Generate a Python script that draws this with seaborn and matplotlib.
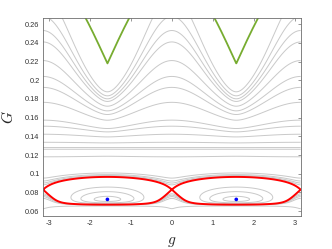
import numpy as np
import pandas as pd
import matplotlib
matplotlib.use("Agg")
import matplotlib.pyplot as plt
import seaborn as sns

# ---- values ----
# island centres (blue dots)
center_g = [-1.5708, 1.5708]
center_G = [0.0725, 0.0725]
# saddle / separatrix geometry
saddle_G = 0.083
sep_low_G = 0.0669
sep_high_G = 0.0965
# gray contours of the lower (resonance) region, given by their height at g = +-pi/2
island_G = [0.0758, 0.0808, 0.0857]
above_sep_G = [0.1008]
# lines passing under the saddle, given by their height at g = 0
below_sep_G = [0.0626, 0.0755, 0.0770, 0.0785]
# upper circulating curves, given by their height at g = +-pi/2
upper_G = [0.1187, 0.1262, 0.1280, 0.1330, 0.1394, 0.1448, 0.1484, 0.1573,
           0.1634, 0.1673, 0.1723, 0.1774, 0.1802, 0.1834, 0.1877]
flat_G = 0.1275
# green boundary: cusp height and rise at g = 0, pi
green_cusp = 0.218
green_rise = 0.096

xticks = [-3, -2, -1, 0, 1, 2, 3]
yticks = [0.06, 0.08, 0.10, 0.12, 0.14, 0.16, 0.18, 0.20, 0.22, 0.24, 0.26]
yticklabels = ["0.06", "0.08", "0.1", "0.12", "0.14", "0.16", "0.18", "0.2",
               "0.22", "0.24", "0.26"]

# ---- model Hamiltonian used to draw the level curves ----
def phi(z):
    return np.exp(-z) - 1 + z

k = 471.0
q0 = phi(k * (sep_low_G - center_G[0]))
beta = 1 + q0 - k * (saddle_G - center_G[0])
kp = k / beta

def Q(y):  # value on g = +-pi/2
    return phi(k * (y - center_G[0])) - q0

def P(y):  # value on g = 0, pi
    return beta * phi(kp * (y - saddle_G))

def smooth_abs(s, eps):
    return (np.sqrt(s ** 2 + eps ** 2) - eps) / (np.sqrt(1 + eps ** 2) - eps)

def a_of(y):
    u = np.abs(y - flat_G)
    return np.where(y > flat_G, 7.53 * u ** 0.816, 3.0 * u ** 0.816)

g = np.linspace(-np.pi, np.pi, 1400)
G = np.linspace(0.05, 0.27, 1400)
X, Y = np.meshgrid(g, G)

sig = smooth_abs(np.sin(X), 0.15)
H_low = P(Y) + (Q(Y) - P(Y)) * sig
H_low = np.where(Y < 0.106, H_low, np.nan)

cshape = smooth_abs(np.cos(X), 0.2)
H_up = (Y - flat_G) / (1 + a_of(Y) * cshape)
H_up = np.where(Y >= 0.106, H_up, np.nan)

low_levels = sorted([Q(v) for v in island_G] + [Q(v) for v in above_sep_G]
                    + [P(v) for v in below_sep_G])
up_levels = [v - flat_G for v in upper_G]

# ---- figure ----
sns.set_style("white")
plt.rcParams["font.family"] = ["Liberation Sans", "DejaVu Sans"]
plt.rcParams["mathtext.fontset"] = "cm"
plt.rcParams["contour.negative_linestyle"] = "solid"

fig = plt.figure(figsize=(3.32, 2.49), dpi=100)
ax = fig.add_axes([0.1295, 0.1313, 0.7762, 0.7952])

gray = "#c9c9c9"
ax.contour(X, Y, H_low, levels=low_levels, colors=gray, linewidths=0.7)
ax.contour(X, Y, H_up, levels=up_levels, colors=gray, linewidths=0.7)
ax.contour(X, Y, H_low, levels=[0.0], colors="#ff0000", linewidths=1.4)

green_df = pd.DataFrame({"g": g, "G": green_cusp + green_rise * np.abs(np.cos(g))})
green_df.loc[green_df["G"] > 0.27, "G"] = np.nan
ax.plot(green_df["g"], green_df["G"], color="#77ac30", lw=1.3)

sns.scatterplot(x=center_g, y=center_G, color="#0000ff", s=7, edgecolor="none", ax=ax, zorder=5)

ax.set_xlim(-np.pi, np.pi)
ax.set_ylim(0.0544, 0.2664)
ax.set_xticks(xticks)
ax.set_xticklabels([str(t) for t in xticks])
ax.set_yticks(yticks)
ax.set_yticklabels(yticklabels)
ax.tick_params(direction="in", length=2.2, width=0.5, color="#6e6e6e",
               labelsize=5.3, labelcolor="#333333", top=True, right=True, pad=2.5)
for sp in ax.spines.values():
    sp.set_color("#6e6e6e")
    sp.set_linewidth(0.6)

ax.set_xlabel("$g$", fontsize=11)
ax.set_ylabel("$G$", fontsize=11)
ax.xaxis.set_label_coords(0.5, -0.095)
ax.yaxis.set_label_coords(-0.105, 0.5)

fig.savefig("out.png", dpi=100)
